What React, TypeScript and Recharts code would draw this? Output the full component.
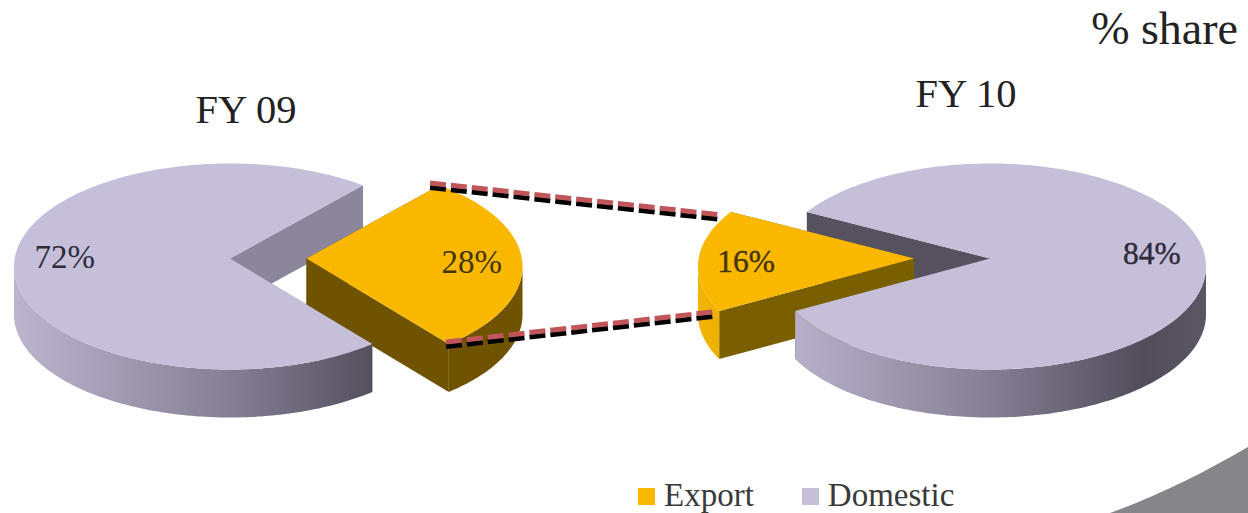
import { Legend, Pie, PieChart } from "recharts";

// Share of revenue by market, FY 09 vs FY 10, drawn as two exploded 3D pies.
const markets = ["Export", "Domestic"];
const fy09Share = [28, 72];
const fy10Share = [16, 84];
const marketColors = ["#fbb800", "#c6bfda"];

const fy09 = markets.map((name, i) => ({ name, value: fy09Share[i], fill: marketColors[i] }));
const fy10 = markets.map((name, i) => ({ name, value: fy10Share[i], fill: marketColors[i] }));

const WIDTH = 1248;
const HEIGHT = 513;
const RX = 216; // horizontal radius of the disc
const RY = 103; // vertical radius once tilted
const DEPTH = 48; // disc thickness
const APEX_DROP = 8; // perspective: ellipse centre sits below the slice apex
const FONT = "'Liberation Serif', serif";

interface Disc {
  id: string;
  cx: number;
  cy: number;
  startAngle: number;
  shift: number; // how far the export slice is pulled out
  innerWall: string; // colour of the cut face on the domestic slice
  exportWall: string;
  labelDx: number;
  labelDy: number[];
  labelSize: number;
  labelStroke: number;
}

const discLeft: Disc = {
  id: "fy09",
  cx: 230,
  cy: 258.5,
  startAngle: 52,
  shift: 76.5,
  innerWall: "#8b869b",
  exportWall: "#6f5300",
  labelDx: 0,
  labelDy: [3.5, -1.5],
  labelSize: 33,
  labelStroke: 0,
};
const discRight: Disc = {
  id: "fy10",
  cx: 990,
  cy: 258.5,
  startAngle: 148,
  shift: -76,
  innerWall: "#55515e",
  exportWall: "#7a5f00",
  labelDx: -3,
  labelDy: [2.5, -5.5],
  labelSize: 31.5,
  labelStroke: 0.4,
};

const rad = (deg: number) => (deg * Math.PI) / 180;

// Point on the tilted rim for a pie angle.
const rim = (cx: number, cy: number, deg: number) => ({
  x: cx + RX * Math.cos(rad(deg)),
  y: cy + APEX_DROP - RY * Math.sin(rad(deg)),
});

function arcPoints(cx: number, cy: number, from: number, to: number) {
  const steps = Math.max(2, Math.ceil(Math.abs(to - from)));
  const pts = [];
  for (let i = 0; i <= steps; i++) pts.push(rim(cx, cy, from + ((to - from) * i) / steps));
  return pts;
}

const toPath = (pts: { x: number; y: number }[]) =>
  pts.map((p, i) => `${i ? "L" : "M"}${p.x.toFixed(1)} ${p.y.toFixed(1)}`).join(" ") + " Z";

function cutWall(cx: number, cy: number, deg: number) {
  const end = rim(cx, cy, deg);
  return toPath([
    { x: cx, y: cy },
    end,
    { x: end.x, y: end.y + DEPTH },
    { x: cx, y: cy + DEPTH },
  ]);
}

// Front-facing part of the rim wall: only angles in the lower half of the disc show.
function outerWall(cx: number, cy: number, start: number, end: number) {
  const lo = Math.min(start, end);
  const hi = Math.max(start, end);
  const ranges: [number, number][] = [];
  for (const turn of [-360, 0, 360]) {
    const a = Math.max(lo, 180 + turn);
    const b = Math.min(hi, 360 + turn);
    if (b > a) ranges.push([a, b]);
  }
  return ranges.map(([a, b]) => {
    const top = arcPoints(cx, cy, a, b);
    const bottom = top.map((p) => ({ x: p.x, y: p.y + DEPTH })).reverse();
    return toPath([...top, ...bottom]);
  });
}

// Domestic cut faces go behind the pulled-out export slice.
const backShape = (disc: Disc) => (props: any) => {
  if (props.name !== "Domestic" && props.payload?.name !== "Domestic") return <g />;
  const { cx, cy, startAngle, endAngle } = props;
  return (
    <g>
      <path d={cutWall(cx, cy, startAngle)} fill={disc.innerWall} />
      <path d={cutWall(cx, cy, endAngle)} fill={disc.innerWall} />
    </g>
  );
};

const frontShape = (disc: Disc) => (props: any) => {
  const { startAngle, endAngle, cy, fill } = props;
  const isExport = (props.name ?? props.payload?.name) === "Export";
  const cx = props.cx + (isExport ? disc.shift : 0);
  const top = [{ x: cx, y: cy }, ...arcPoints(cx, cy, startAngle, endAngle)];
  const gradient = `url(#wall-${isExport ? "export" : "domestic"}-${disc.id})`;
  return (
    <g>
      {isExport && <path d={cutWall(cx, cy, startAngle)} fill={disc.exportWall} />}
      {isExport && <path d={cutWall(cx, cy, endAngle)} fill={disc.exportWall} />}
      {outerWall(cx, cy, startAngle, endAngle).map((d) => (
        <path key={d} d={d} fill={gradient} />
      ))}
      <path d={toPath(top)} fill={fill} />
    </g>
  );
};

const shareLabel = (disc: Disc) => (props: any) => {
  const isExport = props.name === "Export";
  const x = props.cx + disc.labelDx + (isExport ? disc.shift : 0) + 0.765 * RX * Math.cos(rad(props.midAngle));
  const color = isExport ? "#43340a" : "#2f2b3a";
  return (
    <text
      x={x}
      y={props.cy + disc.labelDy[isExport ? 0 : 1]}
      dy={11}
      textAnchor="middle"
      fontFamily={FONT}
      fontSize={disc.labelSize}
      fill={color}
      stroke={color}
      strokeWidth={disc.labelStroke}
    >
      {`${props.value}%`}
    </text>
  );
};

function WallGradients({ disc }: { disc: Disc }) {
  return (
    <defs>
      <linearGradient
        id={`wall-domestic-${disc.id}`}
        gradientUnits="userSpaceOnUse"
        x1={disc.cx - RX}
        x2={disc.cx + RX}
        y1={0}
        y2={0}
      >
        <stop offset="0" stopColor="#bdb5ce" />
        <stop offset="0.5" stopColor="#857f95" />
        <stop offset="0.85" stopColor="#514d5a" />
        <stop offset="1" stopColor="#5a5662" />
      </linearGradient>
      <linearGradient
        id={`wall-export-${disc.id}`}
        gradientUnits="userSpaceOnUse"
        x1={disc.cx + disc.shift - RX}
        x2={disc.cx + disc.shift + RX}
        y1={0}
        y2={0}
      >
        <stop offset="0" stopColor="#f2b400" />
        <stop offset="0.1" stopColor="#eaad00" />
        <stop offset="0.8" stopColor="#6f5300" />
        <stop offset="1" stopColor="#6f5300" />
      </linearGradient>
    </defs>
  );
}

const renderLegend = () => (
  <div style={{ display: "flex", fontFamily: FONT, fontSize: 33, color: "#3a3a3a", lineHeight: "34px" }}>
    {markets.map((name, i) => (
      <div key={name} style={{ display: "flex", alignItems: "center", marginRight: 48 }}>
        <span style={{ width: 17, height: 17, background: marketColors[i], marginRight: 9, marginTop: 2 }} />
        {name}
      </div>
    ))}
  </div>
);

function DiscPies({ disc, data }: { disc: Disc; data: typeof fy09 }) {
  const common = {
    data,
    dataKey: "value",
    nameKey: "name",
    cx: disc.cx,
    cy: disc.cy,
    outerRadius: RX,
    stroke: "none",
    isAnimationActive: false,
  };
  // left disc runs clockwise from its start angle, right disc counter-clockwise
  const endAngle = disc.startAngle + (disc.id === "fy09" ? -360 : 360);
  return [
    <Pie key="back" {...common} startAngle={disc.startAngle} endAngle={endAngle} shape={backShape(disc)} />,
    <Pie
      key="front"
      {...common}
      startAngle={disc.startAngle}
      endAngle={endAngle}
      shape={frontShape(disc)}
      label={shareLabel(disc)}
      labelLine={false}
    />,
  ];
}

export default function App() {
  return (
    <div style={{ position: "absolute", left: 0, top: 0, width: WIDTH, height: HEIGHT, overflow: "hidden", background: "#fff" }}>
      <PieChart width={WIDTH} height={HEIGHT} margin={{ top: 0, right: 0, bottom: 0, left: 0 }}>
        <WallGradients disc={discLeft} />
        <WallGradients disc={discRight} />

        {/* corner ribbon from the slide template */}
        <path d="M1110 513 C1160 495 1205 472 1248 447 L1248 513 Z" fill="#85858a" />

        {DiscPies({ disc: discLeft, data: fy09 })}
        {DiscPies({ disc: discRight, data: fy10 })}

        <text x={246} y={123} textAnchor="middle" fontFamily={FONT} fontSize={40.5} fill="#222">FY 09</text>
        <text x={966} y={107} textAnchor="middle" fontFamily={FONT} fontSize={40.5} fill="#222">FY 10</text>
        <text x={1238} y={44} textAnchor="end" fontFamily={FONT} fontSize={46} fill="#222">% share</text>

        <Legend content={renderLegend} wrapperStyle={{ left: 638, top: 478, width: 400, bottom: "auto" }} />
      </PieChart>

      {/* connectors between the two export slices, above the pie layer */}
      <svg width={WIDTH} height={HEIGHT} style={{ position: "absolute", left: 0, top: 0, pointerEvents: "none" }}>
        <g strokeWidth={5} strokeDasharray="16 5" fill="none">
          <line x1={430} y1={187.5} x2={718} y2={219} stroke="#000" />
          <line x1={430} y1={183} x2={718} y2={214.5} stroke="#c0565a" />
          <line x1={446} y1={346.5} x2={717} y2={316} stroke="#000" />
          <line x1={446} y1={342} x2={717} y2={311.5} stroke="#c0565a" />
        </g>
      </svg>
    </div>
  );
}
